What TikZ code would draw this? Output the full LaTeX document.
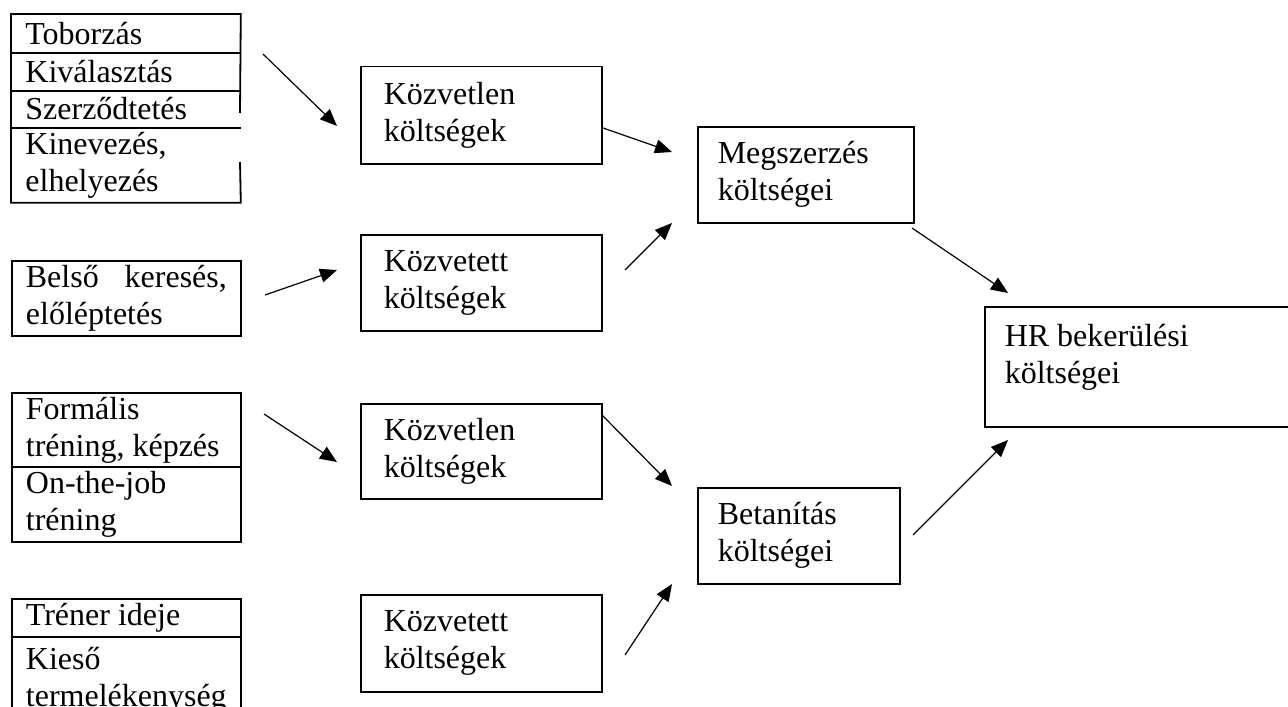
\documentclass[tikz,border=0pt]{standalone}
\usepackage{fontspec}
\setmainfont{Liberation Serif}
\usetikzlibrary{arrows.meta}

\begin{document}
\begin{tikzpicture}[x=0.5pt,y=-0.5pt,
		every node/.style={font=\fontsize{16}{18.5}\selectfont},
		zeile/.style={rectangle,anchor=north west,inner xsep=7pt,inner ysep=0pt,
			minimum width=114.5pt,text width=100.5pt,align=flush left},
		kasten/.style={zeile,draw,line width=0.9pt},
		mitte/.style={rectangle,draw,line width=0.75pt,anchor=north west,inner xsep=11.5pt,
			inner ysep=0pt,minimum width=120.5pt,text width=97.5pt,align=flush left},
		rechts/.style={rectangle,draw,line width=0.75pt,anchor=north west,inner xsep=10pt,
			inner ysep=0pt,align=flush left},
		rand/.style={line width=0.9pt},
		pfeil/.style={-{Triangle[length=8.5pt,width=7pt]},line width=0.6pt}]
		% Rahmen
		\clip (0,0) rectangle (1288,706);
		
		% Linke Spalte: Megszerzes
		\node[zeile,minimum height=19pt] (tob) at (11,14) {Toborzás};
		\node[zeile,minimum height=19pt] (kiv) at (11,52) {Kiválasztás};
		\node[zeile,minimum height=18.5pt] (szer) at (11,90) {Szerződtetés};
		\node[zeile,minimum height=37.5pt] (kin) at (11,127) {Kinevezés,\\elhelyezés};
		\coordinate (luecke1) at (240,113);
		\coordinate (luecke2) at (240,162);
		\draw[rand] (luecke1) -- (tob.north east) -- (tob.north west) -- (kin.south west) -- (kin.south east) -- (luecke2);
		\draw[rand] (tob.south west) -- (tob.south east);
		\draw[rand] (kiv.south west) -- (kiv.south east);
		\draw[rand] (szer.south west) -- (szer.south east);
		
		\node[kasten,minimum height=37.5pt] (belso) at (11,260) {Belső\hfill keresés,\\előléptetés};
		
		% Linke Spalte: Betanitas
		\node[kasten,minimum height=37pt] (form) at (11,392) {Formális\\tréning, képzés};
		\node[kasten,minimum height=37.5pt] (job) at (11,466) {On-the-job\\tréning};
		\node[kasten,minimum height=19pt] (tren) at (11,598) {Tréner ideje};
		\node[kasten,minimum height=43pt] (kies) at (11,636) {Kieső\\termelékenység};
		
		% Mittlere Spalte
		\node[mitte,minimum height=48.5pt] (kozv1) at (360,66) {Közvetlen\\költségek};
		\node[mitte,minimum height=48pt] (kozt1) at (360,234) {Közvetett\\költségek};
		\node[mitte,minimum height=47.5pt] (kozv2) at (360,403) {Közvetlen\\költségek};
		\node[mitte,minimum height=48.5pt] (kozt2) at (360,594) {Közvetett\\költségek};
		
		% Rechte Spalte
		\node[rechts,minimum width=108pt,minimum height=48pt,text width=88pt] (megsz) at (697,126) {Megszerzés\\költségei};
		\node[rechts,minimum width=101pt,minimum height=48pt,text width=81pt] (betan) at (697,487) {Betanítás\\költségei};
		\node[rechts,minimum width=170pt,minimum height=60pt,text width=150pt] (hr) at (984,306) {HR bekerülési\\költségei\rule[-13pt]{0pt}{1pt}};
		
		% Pfeile
		\coordinate (a1s) at (263,54);   \coordinate (a1e) at (337,126);
		\coordinate (a2s) at (265,295);  \coordinate (a2e) at (337,270);
		\coordinate (a3s) at (603,128);  \coordinate (a3e) at (672,152);
		\coordinate (a4s) at (625,270);  \coordinate (a4e) at (672,223);
		\coordinate (a5s) at (912,228);  \coordinate (a5e) at (1008,293);
		\coordinate (a6s) at (913,535);  \coordinate (a6e) at (1008,440);
		\coordinate (a7s) at (602,415);  \coordinate (a7e) at (672,486);
		\coordinate (a8s) at (625,655);  \coordinate (a8e) at (672,584);
		\coordinate (a9s) at (264,414);  \coordinate (a9e) at (337,462);
		\draw[pfeil] (a1s) -- (a1e);
		\draw[pfeil] (a2s) -- (a2e);
		\draw[pfeil] (a3s) -- (a3e);
		\draw[pfeil] (a4s) -- (a4e);
		\draw[pfeil] (a5s) -- (a5e);
		\draw[pfeil] (a6s) -- (a6e);
		\draw[pfeil] (a7s) -- (a7e);
		\draw[pfeil] (a8s) -- (a8e);
		\draw[pfeil] (a9s) -- (a9e);
	\end{tikzpicture}
\end{document}
